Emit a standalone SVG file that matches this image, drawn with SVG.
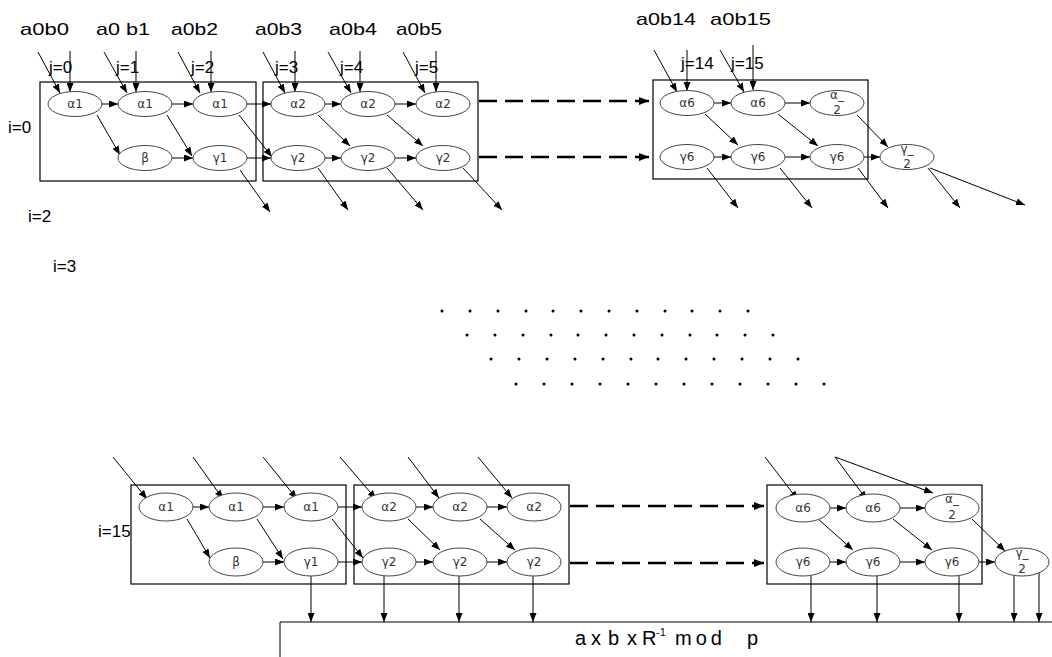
<svg xmlns="http://www.w3.org/2000/svg" width="1052" height="657" viewBox="0 0 1052 657">
<style>
.box{fill:none;stroke:#000;stroke-width:1.2}
.nd ellipse{fill:#fff;stroke:#444;stroke-width:1}
.nd text{font-family:"DejaVu Sans",sans-serif;font-size:12px;fill:#333;text-anchor:middle}
.lab{font-family:"Liberation Sans",Arial,sans-serif;font-size:17px;fill:#000}
.jl{font-family:"Liberation Sans",Arial,sans-serif;font-size:17px;fill:#000}
.ar{stroke:#000;stroke-width:1;fill:none;marker-end:url(#ah)}
.da{stroke:#000;stroke-width:2.5;fill:none;stroke-dasharray:18 8;marker-end:url(#dh)}
.ln{stroke:#000;stroke-width:1;fill:none}
</style>
<defs>
<marker id="ah" markerWidth="9" markerHeight="7" refX="9" refY="3.5" orient="auto" markerUnits="userSpaceOnUse"><path d="M0,0 L9,3.5 L0,7 z" fill="#000"/></marker>
<marker id="dh" markerWidth="10" markerHeight="8" refX="10" refY="4" orient="auto" markerUnits="userSpaceOnUse"><path d="M0,0 L10,4 L0,8 z" fill="#000"/></marker>
</defs>
<rect width="1052" height="657" fill="#fff"/>

<g id="labels">
<text class="lab" x="20" y="35" textLength="49" lengthAdjust="spacingAndGlyphs">a0b0</text>
<text class="lab" x="96" y="35" textLength="54" lengthAdjust="spacingAndGlyphs">a0 b1</text>
<text class="lab" x="171" y="35" textLength="47" lengthAdjust="spacingAndGlyphs">a0b2</text>
<text class="lab" x="255" y="35" textLength="47" lengthAdjust="spacingAndGlyphs">a0b3</text>
<text class="lab" x="329" y="35" textLength="48" lengthAdjust="spacingAndGlyphs">a0b4</text>
<text class="lab" x="396" y="35" textLength="46" lengthAdjust="spacingAndGlyphs">a0b5</text>
<text class="lab" x="636" y="25" textLength="60" lengthAdjust="spacingAndGlyphs">a0b14</text>
<text class="lab" x="710" y="25" textLength="61" lengthAdjust="spacingAndGlyphs">a0b15</text>
<text class="jl" x="49" y="73">j=0</text>
<text class="jl" x="116" y="73">j=1</text>
<text class="jl" x="191" y="73">j=2</text>
<text class="jl" x="275" y="73">j=3</text>
<text class="jl" x="340" y="73">j=4</text>
<text class="jl" x="415" y="73">j=5</text>
<text class="jl" x="681" y="69">j=14</text>
<text class="jl" x="731" y="69">j=15</text>
<text class="jl" x="8" y="133">i=0</text>
<text class="jl" x="28" y="222">i=2</text>
<text class="jl" x="53" y="272">i=3</text>
<text class="jl" x="98" y="537">i=15</text>
</g>

<g id="box-t1"><rect class="box" x="40" y="82" width="216" height="99"/></g>
<g id="box-t2"><rect class="box" x="263" y="82" width="215" height="99"/></g>
<g id="box-t3"><rect class="box" x="653" y="80" width="215" height="99"/></g>
<g id="box-b1"><rect class="box" x="131" y="485" width="215" height="99"/></g>
<g id="box-b2"><rect class="box" x="354" y="485" width="215" height="99"/></g>
<g id="box-b3"><rect class="box" x="767" y="485" width="215" height="99"/></g>
<g id="out-box"><path class="ln" d="M280,657 V622 H1052"/>
<text font-family="Liberation Sans,Arial,sans-serif" font-size="20" fill="#000"><tspan x="575" y="645">a</tspan><tspan x="591" y="645">x</tspan><tspan x="608" y="645">b</tspan><tspan x="627" y="645">x</tspan><tspan x="642" y="645">R</tspan><tspan x="656" y="636" font-size="11">-1</tspan><tspan x="675" y="645" letter-spacing="4">mod</tspan><tspan x="747" y="645">p</tspan></text>
</g>

<g id="connectors">
<line class="ar" x1="38" y1="52" x2="60" y2="93"/><line class="ar" x1="70" y1="51" x2="70" y2="92"/>
<line class="ar" x1="104" y1="52" x2="127" y2="93"/><line class="ar" x1="136" y1="51" x2="136" y2="92"/>
<line class="ar" x1="178" y1="52" x2="200" y2="93"/><line class="ar" x1="211" y1="51" x2="211" y2="92"/>
<line class="ar" x1="263" y1="52" x2="285" y2="93"/><line class="ar" x1="295" y1="51" x2="295" y2="92"/>
<line class="ar" x1="328" y1="52" x2="351" y2="93"/><line class="ar" x1="360" y1="51" x2="360" y2="92"/>
<line class="ar" x1="403" y1="52" x2="425" y2="93"/><line class="ar" x1="436" y1="51" x2="436" y2="92"/>
<line class="ar" x1="654" y1="50" x2="677" y2="92"/><line class="ar" x1="687" y1="50" x2="687" y2="91"/>
<line class="ar" x1="720" y1="50" x2="744" y2="92"/><line class="ar" x1="753" y1="45" x2="753" y2="90"/>
<line class="ar" x1="102" y1="104" x2="118" y2="104"/>
<line class="ar" x1="172" y1="104" x2="193" y2="104"/>
<line class="ar" x1="247" y1="104" x2="271" y2="104"/>
<line class="ar" x1="325" y1="104" x2="341" y2="104"/>
<line class="ar" x1="395" y1="104" x2="416" y2="104"/>
<line class="ar" x1="172" y1="158" x2="193" y2="158"/>
<line class="ar" x1="247" y1="158" x2="271" y2="158"/>
<line class="ar" x1="325" y1="158" x2="341" y2="158"/>
<line class="ar" x1="395" y1="158" x2="416" y2="158"/>
<line class="ar" x1="714" y1="103" x2="731" y2="103"/>
<line class="ar" x1="785" y1="103" x2="810" y2="103"/>
<line class="ar" x1="714" y1="157" x2="731" y2="157"/>
<line class="ar" x1="785" y1="157" x2="810" y2="157"/>
<line class="ar" x1="864" y1="157" x2="880" y2="157"/>
<line class="ar" x1="97" y1="115" x2="120" y2="155"/>
<line class="ar" x1="167" y1="115" x2="192" y2="156"/>
<line class="ar" x1="239" y1="115" x2="272" y2="157"/>
<line class="ar" x1="318" y1="115" x2="350" y2="146"/>
<line class="ar" x1="387" y1="115" x2="423" y2="146"/>
<line class="ar" x1="705" y1="114" x2="738" y2="145"/>
<line class="ar" x1="778" y1="114" x2="818" y2="146"/>
<line class="ar" x1="857" y1="115" x2="888" y2="147"/>
<line class="ar" x1="240" y1="170" x2="270" y2="212"/>
<line class="ar" x1="318" y1="168" x2="348" y2="210"/>
<line class="ar" x1="387" y1="168" x2="423" y2="210"/>
<line class="ar" x1="463" y1="168" x2="502" y2="210"/>
<line class="ar" x1="707" y1="168" x2="738" y2="208"/>
<line class="ar" x1="780" y1="168" x2="812" y2="208"/>
<line class="ar" x1="858" y1="168" x2="888" y2="208"/>
<line class="ar" x1="928" y1="168" x2="960" y2="208"/>
<line class="ar" x1="930" y1="168" x2="1025" y2="205"/>
<line class="da" x1="479" y1="101" x2="649" y2="101"/>
<line class="da" x1="479" y1="157" x2="649" y2="157"/>
<line class="ar" x1="113" y1="457" x2="147" y2="499"/>
<line class="ar" x1="193" y1="457" x2="223" y2="499"/>
<line class="ar" x1="263" y1="457" x2="297" y2="499"/>
<line class="ar" x1="340" y1="457" x2="376" y2="499"/>
<line class="ar" x1="408" y1="457" x2="439" y2="498"/>
<line class="ar" x1="478" y1="457" x2="512" y2="498"/>
<line class="ar" x1="765" y1="457" x2="798" y2="500"/>
<line class="ar" x1="835" y1="457" x2="867" y2="500"/>
<line class="ar" x1="835" y1="457" x2="933" y2="493"/>
<line class="ar" x1="193" y1="507" x2="209" y2="507"/>
<line class="ar" x1="263" y1="507" x2="284" y2="507"/>
<line class="ar" x1="338" y1="507" x2="362" y2="507"/>
<line class="ar" x1="416" y1="507" x2="433" y2="507"/>
<line class="ar" x1="487" y1="507" x2="507" y2="507"/>
<line class="ar" x1="263" y1="562" x2="284" y2="562"/>
<line class="ar" x1="338" y1="562" x2="362" y2="562"/>
<line class="ar" x1="416" y1="562" x2="433" y2="562"/>
<line class="ar" x1="487" y1="562" x2="507" y2="562"/>
<line class="ar" x1="830" y1="508" x2="846" y2="508"/>
<line class="ar" x1="900" y1="508" x2="925" y2="508"/>
<line class="ar" x1="830" y1="562" x2="846" y2="562"/>
<line class="ar" x1="900" y1="562" x2="925" y2="562"/>
<line class="ar" x1="979" y1="562" x2="995" y2="562"/>
<line class="ar" x1="187" y1="519" x2="210" y2="558"/>
<line class="ar" x1="257" y1="519" x2="283" y2="559"/>
<line class="ar" x1="332" y1="519" x2="363" y2="558"/>
<line class="ar" x1="408" y1="519" x2="440" y2="550"/>
<line class="ar" x1="480" y1="519" x2="515" y2="550"/>
<line class="ar" x1="818" y1="519" x2="853" y2="550"/>
<line class="ar" x1="893" y1="519" x2="932" y2="550"/>
<line class="ar" x1="972" y1="519" x2="1005" y2="551"/>
<line class="ar" x1="311" y1="575" x2="311" y2="622"/>
<line class="ar" x1="384" y1="576" x2="384" y2="622"/>
<line class="ar" x1="459" y1="576" x2="459" y2="622"/>
<line class="ar" x1="533" y1="576" x2="533" y2="622"/>
<line class="ar" x1="811" y1="576" x2="811" y2="622"/>
<line class="ar" x1="877" y1="576" x2="877" y2="622"/>
<line class="ar" x1="959" y1="576" x2="959" y2="622"/>
<line class="ar" x1="1014" y1="575" x2="1014" y2="622"/>
<line class="ar" x1="1039" y1="571" x2="1039" y2="622"/>
<line class="da" x1="570" y1="506" x2="764" y2="506"/>
<line class="da" x1="570" y1="563" x2="764" y2="563"/>
</g>

<g id="t-a1-1" class="nd"><ellipse cx="75" cy="104" rx="27" ry="12.5"/><text x="75" y="108">α1</text></g>
<g id="t-a1-2" class="nd"><ellipse cx="145" cy="104" rx="27" ry="12.5"/><text x="145" y="108">α1</text></g>
<g id="t-a1-3" class="nd"><ellipse cx="220" cy="104" rx="27" ry="12.5"/><text x="220" y="108">α1</text></g>
<g id="t-b" class="nd"><ellipse cx="145" cy="158" rx="27" ry="12.5"/><text x="145" y="162">β</text></g>
<g id="t-g1" class="nd"><ellipse cx="220" cy="158" rx="27" ry="12.5"/><text x="220" y="162">γ1</text></g>
<g id="t-a2-1" class="nd"><ellipse cx="298" cy="104" rx="27" ry="12.5"/><text x="298" y="108">α2</text></g>
<g id="t-a2-2" class="nd"><ellipse cx="368" cy="104" rx="27" ry="12.5"/><text x="368" y="108">α2</text></g>
<g id="t-a2-3" class="nd"><ellipse cx="443" cy="104" rx="27" ry="12.5"/><text x="443" y="108">α2</text></g>
<g id="t-g2-1" class="nd"><ellipse cx="298" cy="158" rx="27" ry="12.5"/><text x="298" y="162">γ2</text></g>
<g id="t-g2-2" class="nd"><ellipse cx="368" cy="158" rx="27" ry="12.5"/><text x="368" y="162">γ2</text></g>
<g id="t-g2-3" class="nd"><ellipse cx="443" cy="158" rx="27" ry="12.5"/><text x="443" y="162">γ2</text></g>
<g id="t-a6-1" class="nd"><ellipse cx="687" cy="103" rx="27" ry="12.5"/><text x="687" y="107">α6</text></g>
<g id="t-a6-2" class="nd"><ellipse cx="758" cy="103" rx="27" ry="12.5"/><text x="758" y="107">α6</text></g>
<g id="t-a-2" class="nd"><ellipse cx="837" cy="103" rx="27" ry="12.5"/><text x="837" y="99" font-size="9">α_</text><text x="837" y="114">2</text></g>
<g id="t-g6-1" class="nd"><ellipse cx="687" cy="157" rx="27" ry="12.5"/><text x="687" y="161">γ6</text></g>
<g id="t-g6-2" class="nd"><ellipse cx="758" cy="157" rx="27" ry="12.5"/><text x="758" y="161">γ6</text></g>
<g id="t-g6-3" class="nd"><ellipse cx="837" cy="157" rx="27" ry="12.5"/><text x="837" y="161">γ6</text></g>
<g id="t-g-2" class="nd"><ellipse cx="907" cy="157" rx="27" ry="12.5"/><text x="907" y="153" font-size="9">γ_</text><text x="907" y="168">2</text></g>

<g id="b-a1-1" class="nd"><ellipse cx="166" cy="507" rx="27" ry="14"/><text x="166" y="511">α1</text></g>
<g id="b-a1-2" class="nd"><ellipse cx="236" cy="507" rx="27" ry="14"/><text x="236" y="511">α1</text></g>
<g id="b-a1-3" class="nd"><ellipse cx="311" cy="507" rx="27" ry="14"/><text x="311" y="511">α1</text></g>
<g id="b-b" class="nd"><ellipse cx="236" cy="562" rx="27" ry="14"/><text x="236" y="566">β</text></g>
<g id="b-g1" class="nd"><ellipse cx="311" cy="562" rx="27" ry="14"/><text x="311" y="566">γ1</text></g>
<g id="b-a2-1" class="nd"><ellipse cx="389" cy="507" rx="27" ry="14"/><text x="389" y="511">α2</text></g>
<g id="b-a2-2" class="nd"><ellipse cx="460" cy="507" rx="27" ry="14"/><text x="460" y="511">α2</text></g>
<g id="b-a2-3" class="nd"><ellipse cx="534" cy="507" rx="27" ry="14"/><text x="534" y="511">α2</text></g>
<g id="b-g2-1" class="nd"><ellipse cx="389" cy="562" rx="27" ry="14"/><text x="389" y="566">γ2</text></g>
<g id="b-g2-2" class="nd"><ellipse cx="460" cy="562" rx="27" ry="14"/><text x="460" y="566">γ2</text></g>
<g id="b-g2-3" class="nd"><ellipse cx="534" cy="562" rx="27" ry="14"/><text x="534" y="566">γ2</text></g>
<g id="b-a6-1" class="nd"><ellipse cx="803" cy="508" rx="27" ry="14"/><text x="803" y="512">α6</text></g>
<g id="b-a6-2" class="nd"><ellipse cx="873" cy="508" rx="27" ry="14"/><text x="873" y="512">α6</text></g>
<g id="b-a-2" class="nd"><ellipse cx="952" cy="508" rx="27" ry="14"/><text x="952" y="503" font-size="9">α_</text><text x="952" y="519">2</text></g>
<g id="b-g6-1" class="nd"><ellipse cx="803" cy="562" rx="27" ry="14"/><text x="803" y="566">γ6</text></g>
<g id="b-g6-2" class="nd"><ellipse cx="873" cy="562" rx="27" ry="14"/><text x="873" y="566">γ6</text></g>
<g id="b-g6-3" class="nd"><ellipse cx="952" cy="562" rx="27" ry="14"/><text x="952" y="566">γ6</text></g>
<g id="b-g-2" class="nd"><ellipse cx="1022" cy="562" rx="27" ry="14"/><text x="1022" y="557" font-size="9">γ_</text><text x="1022" y="573">2</text></g>

<g id="dots" fill="#000">
<circle cx="442" cy="311" r="1.5"/><circle cx="470" cy="311" r="1.5"/><circle cx="498" cy="311" r="1.5"/><circle cx="526" cy="311" r="1.5"/><circle cx="553" cy="311" r="1.5"/><circle cx="581" cy="311" r="1.5"/><circle cx="609" cy="311" r="1.5"/><circle cx="637" cy="311" r="1.5"/><circle cx="665" cy="311" r="1.5"/><circle cx="692" cy="311" r="1.5"/><circle cx="720" cy="311" r="1.5"/><circle cx="748" cy="311" r="1.5"/>
<circle cx="467" cy="335" r="1.5"/><circle cx="495" cy="335" r="1.5"/><circle cx="523" cy="335" r="1.5"/><circle cx="551" cy="335" r="1.5"/><circle cx="578" cy="335" r="1.5"/><circle cx="606" cy="335" r="1.5"/><circle cx="634" cy="335" r="1.5"/><circle cx="662" cy="335" r="1.5"/><circle cx="690" cy="335" r="1.5"/><circle cx="717" cy="335" r="1.5"/><circle cx="745" cy="335" r="1.5"/><circle cx="773" cy="335" r="1.5"/>
<circle cx="491" cy="359" r="1.5"/><circle cx="519" cy="359" r="1.5"/><circle cx="547" cy="359" r="1.5"/><circle cx="575" cy="359" r="1.5"/><circle cx="603" cy="359" r="1.5"/><circle cx="631" cy="359" r="1.5"/><circle cx="658" cy="359" r="1.5"/><circle cx="686" cy="359" r="1.5"/><circle cx="714" cy="359" r="1.5"/><circle cx="742" cy="359" r="1.5"/><circle cx="770" cy="359" r="1.5"/><circle cx="798" cy="359" r="1.5"/>
<circle cx="516" cy="384" r="1.5"/><circle cx="544" cy="384" r="1.5"/><circle cx="572" cy="384" r="1.5"/><circle cx="600" cy="384" r="1.5"/><circle cx="628" cy="384" r="1.5"/><circle cx="656" cy="384" r="1.5"/><circle cx="684" cy="384" r="1.5"/><circle cx="712" cy="384" r="1.5"/><circle cx="740" cy="384" r="1.5"/><circle cx="768" cy="384" r="1.5"/><circle cx="796" cy="384" r="1.5"/><circle cx="824" cy="384" r="1.5"/>
</g>
</svg>
